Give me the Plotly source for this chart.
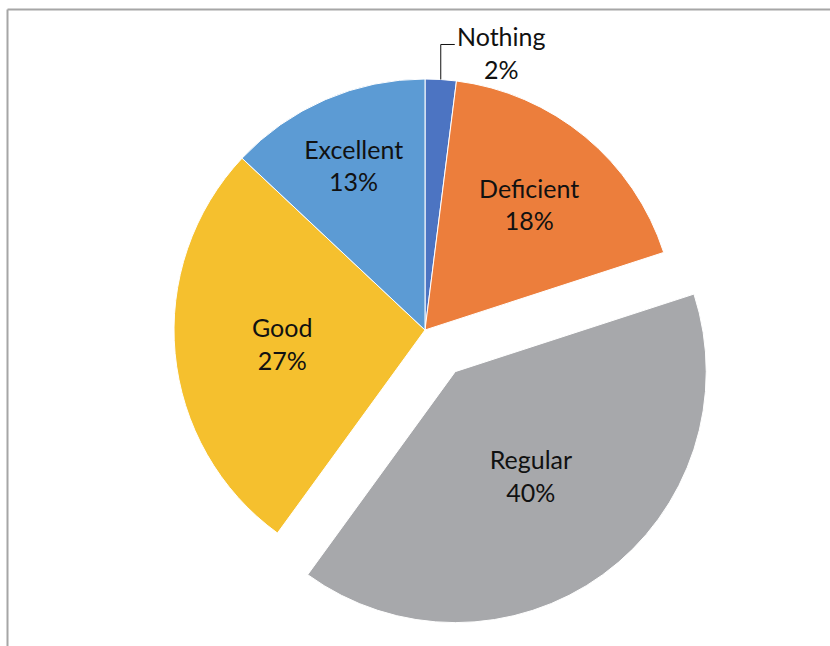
import math
import plotly.graph_objects as go

# Survey answers, clockwise from 12 o'clock
labels = ["Nothing", "Deficient", "Regular", "Good", "Excellent"]
values = [2, 18, 40, 27, 13]
colors = ["#4C74C2", "#EC7E3C", "#A7A8AB", "#F5C02E", "#5C9BD4"]
pull = [0, 0, 0.205, 0, 0]
text_pos = ["none", "inside", "inside", "inside", "inside"]

W, H = 830, 646
FONT = "Lato"
FONT_SIZE = 25

# Pie geometry (pixels): centre and radius of the un-pulled circle
cx, cy, r_px = 425, 330, 251
half = r_px * (1 + max(pull))
dom_x = [(cx - half) / W, (cx + half) / W]
dom_y = [1 - (cy + half) / H, 1 - (cy - half) / H]


def px(x, y):
    """Pixel position -> paper coordinates."""
    return x / W, 1 - y / H


fig = go.Figure(
    go.Pie(
        labels=labels,
        values=values,
        sort=False,
        direction="clockwise",
        rotation=0,
        pull=pull,
        marker=dict(colors=colors, line=dict(color="white", width=1)),
        textinfo="label+percent",
        textposition=text_pos,
        insidetextorientation="horizontal",
        textfont=dict(family=FONT, size=FONT_SIZE, color="#111111"),
        domain=dict(x=dom_x, y=dom_y),
        showlegend=False,
        hoverinfo="label+percent",
    )
)

# Leader line and outside label for the smallest slice
total = sum(values)
mid_angle = math.radians(360 * (values[0] / 2) / total)
ax = cx + r_px * math.sin(mid_angle)
ay = cy - r_px * math.cos(mid_angle)
elbow_y = ay - 35
end_x = ax + 14
p0, p1, p2 = px(ax, ay), px(ax, elbow_y), px(end_x, elbow_y)

shapes = [
    dict(type="path", xref="paper", yref="paper",
         path=f"M {p0[0]} {p0[1]} L {p1[0]} {p1[1]} L {p2[0]} {p2[1]}",
         line=dict(color="#111111", width=1)),
]

# Chart frame (top and left edges)
fx0, fy0 = px(7.5, 9.5)
shapes += [
    dict(type="line", xref="paper", yref="paper", x0=fx0, y0=fy0, x1=1, y1=fy0,
         line=dict(color="#A6A6A6", width=2)),
    dict(type="line", xref="paper", yref="paper", x0=fx0, y0=fy0, x1=fx0, y1=0,
         line=dict(color="#A6A6A6", width=2)),
]

lx, ly = px(end_x + 47, elbow_y + 8)
annotations = [
    dict(xref="paper", yref="paper", x=lx, y=ly, xanchor="center", yanchor="middle",
         text=f"{labels[0]}<br>{round(100 * values[0] / total)}%", showarrow=False,
         align="center", font=dict(family=FONT, size=FONT_SIZE, color="#111111")),
]

fig.update_layout(
    width=W, height=H,
    margin=dict(l=0, r=0, t=0, b=0),
    paper_bgcolor="white",
    plot_bgcolor="white",
    shapes=shapes,
    annotations=annotations,
)

fig.write_html("out.html")
